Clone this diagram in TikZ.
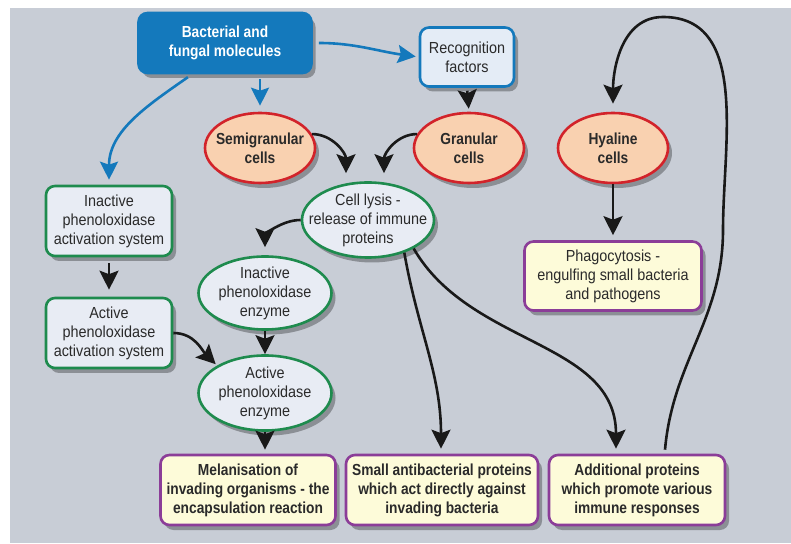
\documentclass[tikz,border=0pt]{standalone}
\usepackage{fontspec}
\setmainfont{Liberation Sans}[FakeStretch=0.9, BoldFeatures={FakeStretch=0.86}]
\usepackage{tikz}
\usetikzlibrary{arrows.meta, shadows, shapes, positioning}
\definecolor{bgGrey}{HTML}{C8CDD6}
\definecolor{molBlue}{HTML}{1479BC}
\definecolor{recogFill}{HTML}{E4ECF6}
\definecolor{cellFill}{HTML}{F9D1B0}
\definecolor{cellRed}{HTML}{D2232A}
\definecolor{sysGreen}{HTML}{1E8B4E}
\definecolor{sysFill}{HTML}{E8ECF4}
\definecolor{outPurple}{HTML}{8B3D98}
\definecolor{outFill}{HTML}{FDFBD9}
\definecolor{txtGrey}{HTML}{2A2A2A}

\begin{document}
\begin{tikzpicture}[
            x=1pt, y=1pt,
                base/.style = {draw, line width=2.6pt, text centered, align=center,
                            text=txtGrey, font=\fontsize{16}{19}\selectfont,
                            drop shadow={shadow xshift=4pt, shadow yshift=-5pt,
                            opacity=0.3, fill=black}},
                roundbox/.style = {base, rectangle, rounded corners=9pt, inner sep=2pt,
                            minimum width=126pt, minimum height=70pt},
                oval/.style = {base, ellipse, inner xsep=-14pt, inner ysep=-8pt},
                molecules/.style = {roundbox, fill=molBlue, draw=molBlue, text=white,
                            font=\fontsize{16}{19}\selectfont\bfseries,
                            minimum width=173pt, minimum height=60pt},
                recognition/.style = {roundbox, fill=recogFill, draw=molBlue,
                            minimum width=94pt, minimum height=59pt},
                cellOval/.style = {oval, fill=cellFill, draw=cellRed,
                            font=\fontsize{16}{19}\selectfont\bfseries,
                            minimum width=110pt, minimum height=70pt},
                system/.style = {roundbox, fill=sysFill, draw=sysGreen},
                enzyme/.style = {oval, fill=sysFill, draw=sysGreen,
                            minimum width=133pt, minimum height=73pt},
                outcome/.style = {roundbox, fill=outFill, draw=outPurple,
                            font=\fontsize{16}{19}\selectfont\bfseries,
                            minimum height=70pt},
                blueArrow/.style = {-{Stealth[length=18pt, width=18pt, inset=3pt]},
                            draw=molBlue, line width=2.6pt},
                blackArrow/.style = {-{Stealth[length=19pt, width=19pt, inset=3.5pt]},
                            draw=black!90, line width=2.6pt},
            ]
            \useasboundingbox (0,0) rectangle (791,543);
            \fill[bgGrey] (10,0) rectangle (791,535);

            % top row
            \node (bact) [molecules] at (225,500) {
                Bacterial and\\ fungal molecules
            };
            \node (recog) [recognition] at (467,486) {
                Recognition\\ factors
            };
            \node (semi) [cellOval] at (260,395) {
                Semigranular\\ cells
            };
            \node (gran) [cellOval] at (469,395) {
                Granular\\ cells
            };
            \node (hyal) [cellOval] at (613,395) {
                Hyaline\\ cells
            };

            % middle
            \node (lysis) [enzyme, minimum width=132pt, minimum height=75pt] at (368,323) {
                Cell lysis -\\ release of immune\\ proteins
            };
            \node (inSys) [system] at (109,322) {
                Inactive\\ phenoloxidase\\ activation system
            };
            \node (acSys) [system] at (109,210) {
                Active\\ phenoloxidase\\ activation system
            };
            \node (inEnz) [enzyme] at (265,250) {
                Inactive\\ phenoloxidase\\ enzyme
            };
            \node (acEnz) [enzyme, minimum height=75pt] at (265,150) {
                Active\\ phenoloxidase\\ enzyme
            };
            \node (phago) [outcome, minimum width=177pt, minimum height=69pt] at (613,267) {
                \mdseries Phagocytosis -\\ \mdseries engulfing small bacteria\\ \mdseries and pathogens
            };

            % bottom row
            \node (mel) [outcome, minimum width=175pt] at (248,53) {
                Melanisation of\\ invading organisms - the\\ encapsulation reaction
            };
            \node (small) [outcome, minimum width=192pt] at (442,53) {
                Small antibacterial proteins\\ which act directly against\\ invading bacteria
            };
            \node (addl) [outcome, minimum width=176pt] at (637,53) {
                Additional proteins\\ which promote various\\ immune responses
            };

            \coordinate (loopR) at (723,313);
            \coordinate (loopT) at (663,526);

            % blue connectors
            \draw[blueArrow, shorten <=6pt, shorten >=3pt] (bact.east) to [out=0, in=172] (recog.west);
            \draw[blueArrow, shorten <=5pt, shorten >=6pt] (bact.south -| semi.north) -- (semi.north);
            \draw[blueArrow, shorten <=5pt, shorten >=5pt] ([xshift=-33pt]bact.south) to [out=-145, in=90] (inSys.north);

            % black connectors
            \draw[blackArrow, shorten <=3pt, shorten >=3pt] (recog.south) -- (gran.north);
            \draw[blackArrow] (semi.15) to [out=0, in=90] ([xshift=-22pt, yshift=8pt]lysis.north);
            \draw[blackArrow] (gran.165) to [out=180, in=90] ([xshift=16pt, yshift=8pt]lysis.north);
            \draw[blackArrow, shorten >=8pt] (lysis.west) to [out=180, in=90] (inEnz.north);
            \draw[blackArrow, shorten <=6pt, shorten >=7pt] (inSys.south) -- (acSys.north);
            \draw[blackArrow, shorten >=2pt] (acSys.east) to [out=0, in=135] (acEnz.north west);
            \draw[blackArrow] (inEnz.south) -- (acEnz.north);
            \draw[blackArrow, shorten >=4pt] (acEnz.south) -- (acEnz.south |- mel.north);
            \draw[blackArrow, shorten >=5pt] (hyal.south) -- (phago.north);
            \draw[blackArrow, shorten >=5pt] (lysis.-42) to [out=-80, in=90] (small.north -| 441,0);
            \draw[blackArrow, shorten >=5pt] (lysis.-32) to [out=-60, in=90] ([xshift=-21pt]addl.north);
            \draw[blackArrow, shorten >=8pt] ([xshift=28pt, yshift=4pt]addl.north) to [out=85, in=-90] (loopR)
                to [out=90, in=0] (loopT) to [out=180, in=90] (hyal.north);
        \end{tikzpicture}
\end{document}
